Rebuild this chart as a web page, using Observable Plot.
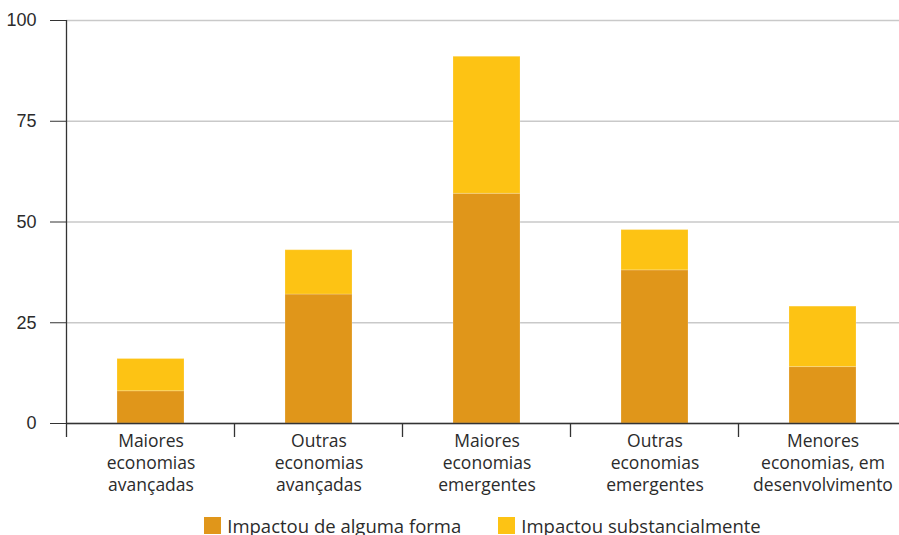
<!DOCTYPE html>
<html><head><meta charset="utf-8">
<script src="https://cdn.jsdelivr.net/npm/d3@7"></script>
<script src="https://cdn.jsdelivr.net/npm/@observablehq/plot@0.6"></script>
<style>
html,body{margin:0;padding:0;background:#fff;overflow:hidden;width:899px;height:535px}
#chart{position:absolute;left:0;top:0}
#legend{position:absolute;left:66px;width:833px;top:516px;display:flex;justify-content:center;gap:37px;font-family:"Open Sans",sans-serif;font-size:18.5px;color:#2b2b2b}
.item{display:flex;align-items:flex-start;gap:6px}
.sw{width:17px;height:17px;display:inline-block;margin-top:1px}
.lb{line-height:17px;margin-top:1px;white-space:nowrap}
</style></head>
<body><div id="chart"></div><div id="legend"></div>
<script>
const categories = ["Maiores\neconomias\navançadas","Outras\neconomias\navançadas","Maiores\neconomias\nemergentes","Outras\neconomias\nemergentes","Menores\neconomias, em\ndesenvolvimento"];
const series = ["Impactou de alguma forma","Impactou substancialmente"];
const alguma = [8,32,57,38,14];
const substancial = [8,11,34,10,15];
const colors = ["#E0961A","#FDC314"];
const yTicks = [0,25,50,75,100];

const data = categories.flatMap((c,i)=>[
  {cat:c, serie:series[0], value:alguma[i]},
  {cat:c, serie:series[1], value:substancial[i]}
]);

const plot = Plot.plot({
  width: 899, height: 510,
  marginTop: 20, marginBottom: 87, marginLeft: 66, marginRight: 0,
  style: {background:"#fff", color:"#2b2b2b"},
  x: {domain: categories, range: [66, 908], paddingInner: 0.6, paddingOuter: 0.3},
  y: {domain: [0,100]},
  color: {domain: series, range: colors},
  marks: [
    Plot.gridY(yTicks, {stroke:"#c9c9c9", strokeOpacity:1, strokeWidth:1.3}),
    Plot.barY(data, Plot.stackY({x:"cat", y:"value", fill:"serie", order: series, stroke:"#fff", strokeOpacity:0.2, strokeWidth:1})),
    Plot.ruleY([0], {stroke:"#333", strokeWidth:1.3}),
    Plot.axisY({ticks: yTicks, tickSize:16, tickPadding:14, fontSize:18, fontFamily:"'Liberation Sans Narrow','Arial Narrow',sans-serif", label:null, stroke:"#333"}),
    Plot.axisX({tickSize:0, tickPadding:8, fontSize:17.5, fontFamily:"'Open Sans',sans-serif", lineHeight:1.26, label:null})
  ]
});
document.getElementById("chart").appendChild(plot);

// band boundary ticks and vertical axis line, derived from the plot's scales
const xs = plot.scale("x"), ys = plot.scale("y");
const svg = d3.select(plot);
const y0 = ys.apply(0), yTop = ys.apply(100);
const half = (xs.step - xs.bandwidth) / 2;
categories.forEach((c,i)=>{
  const bx = xs.apply(c) - half;
  svg.append("line").attr("x1",bx).attr("x2",bx).attr("y1", i===0 ? yTop : y0).attr("y2", y0+14)
    .attr("stroke","#333").attr("stroke-width",1.3);
});

const leg = d3.select("#legend");
series.forEach((s,i)=>{
  const it = leg.append("div").attr("class","item");
  it.append("span").attr("class","sw").style("background", colors[i]);
  it.append("span").attr("class","lb").text(s);
});
</script></body></html>
